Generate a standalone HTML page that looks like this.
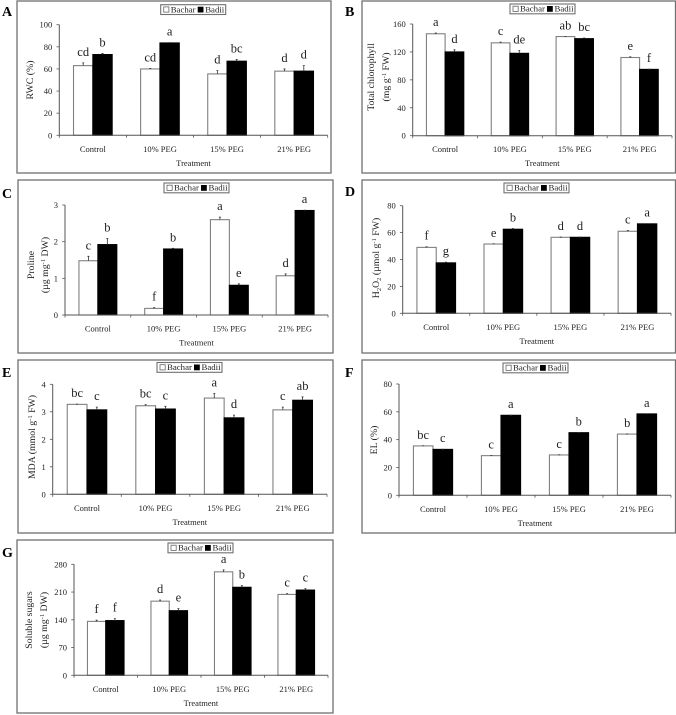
<!DOCTYPE html>
<html lang="en">
<head>
<meta charset="utf-8">
<title>Seven-panel bar charts: Bachar and Badii under PEG treatments</title>
<style>
  html, body { margin: 0; padding: 0; background: #fff; }
  svg { display: block; filter: blur(0.35px); }
  text { font-family: "Liberation Serif", serif; fill: #222; }
</style>
</head>
<body>
<svg id="figure" xmlns="http://www.w3.org/2000/svg" width="676" height="715" viewBox="0 0 676 715"></svg>
<script>
const categories = ['Control', '10% PEG', '15% PEG', '21% PEG'];
const seriesNames = ['Bachar', 'Badii'];
const xAxisTitle = 'Treatment';

const aBachar = [63, 60, 55.5, 58];
const aBadii = [73, 83.5, 67, 58];
const aBacharErr = [2.5, 0.5, 3, 2];
const aBadiiErr = [1, 0.3, 1.5, 5];
const aBacharSig = ['cd', 'cd', 'd', 'd'];
const aBadiiSig = ['b', 'a', 'bc', 'd'];
const aTicks = [0, 20, 40, 60, 80, 100];

const bBachar = [146, 133, 142, 112];
const bBadii = [120, 118, 139, 95];
const bBacharErr = [1, 1, 0.3, 1];
const bBadiiErr = [3, 4, 1, 0.3];
const bBacharSig = ['a', 'c', 'ab', 'e'];
const bBadiiSig = ['d', 'de', 'bc', 'f'];
const bTicks = [0, 40, 80, 120, 160];

const cBachar = [1.48, 0.18, 2.6, 1.07];
const cBadii = [1.92, 1.8, 0.81, 2.85];
const cBacharErr = [0.12, 0.02, 0.07, 0.05];
const cBadiiErr = [0.17, 0.02, 0.04, 0.01];
const cBacharSig = ['c', 'f', 'a', 'd'];
const cBadiiSig = ['b', 'b', 'e', 'a'];
const cTicks = [0, 1, 2, 3];

const dBachar = [49, 51.5, 56.5, 61];
const dBadii = [37.5, 62.5, 56.5, 66.5];
const dBacharErr = [0.5, 0.2, 0.2, 0.5];
const dBadiiErr = [0.5, 0.5, 0.2, 0.2];
const dBacharSig = ['f', 'e', 'd', 'c'];
const dBadiiSig = ['g', 'b', 'd', 'a'];
const dTicks = [0, 20, 40, 60, 80];

const eBachar = [3.27, 3.22, 3.5, 3.07];
const eBadii = [3.07, 3.1, 2.78, 3.42];
const eBacharErr = [0.01, 0.04, 0.17, 0.1];
const eBadiiErr = [0.1, 0.1, 0.1, 0.12];
const eBacharSig = ['bc', 'bc', 'a', 'c'];
const eBadiiSig = ['c', 'c', 'd', 'ab'];
const eTicks = [0, 1, 2, 3, 4];

const fBachar = [35.5, 28.5, 29, 44];
const fBadii = [33, 57.5, 45, 58.5];
const fBacharErr = [0.1, 0.1, 0.1, 0.1];
const fBadiiErr = [0.1, 0.1, 0.1, 0.1];
const fBacharSig = ['bc', 'c', 'c', 'b'];
const fBadiiSig = ['c', 'a', 'b', 'a'];
const fTicks = [0, 20, 40, 60, 80];

const gBachar = [136, 187, 261, 204];
const gBadii = [138, 163, 222, 215];
const gBacharErr = [3, 3, 5, 2];
const gBadiiErr = [5, 5, 4, 4];
const gBacharSig = ['f', 'd', 'a', 'c'];
const gBadiiSig = ['f', 'e', 'b', 'c'];
const gTicks = [0, 70, 140, 210, 280];

const panels = [
  { letter: 'A', bachar: aBachar, badii: aBadii, bacharErr: aBacharErr, badiiErr: aBadiiErr, bacharSig: aBacharSig, badiiSig: aBadiiSig, ticks: aTicks,
    title: [[['RWC (%)', '']]],
    frame: [17, 1, 314, 172], axis: [59.3, 327.7, 135.3, 24.7], legend: [160.7, 4.7], letterAt: [2, 16], titleX: [33], titleY: 80 },
  { letter: 'B', bachar: bBachar, badii: bBadii, bacharErr: bBacharErr, badiiErr: bBadiiErr, bacharSig: bBacharSig, badiiSig: bBadiiSig, ticks: bTicks,
    title: [[['Total chlorophyll', '']], [['(mg g', ''], ['-1', 'sup'], [' FW)', '']]],
    frame: [362, 1, 313.5, 172], axis: [412.7, 672, 135.7, 24], legend: [510, 4], letterAt: [345, 16], titleX: [374, 389], titleY: 77 },
  { letter: 'C', bachar: cBachar, badii: cBadii, bacharErr: cBacharErr, badiiErr: cBadiiErr, bacharSig: cBacharSig, badiiSig: cBadiiSig, ticks: cTicks,
    title: [[['Proline', '']], [['(µg mg', ''], ['-1', 'sup'], [' DW)', '']]],
    frame: [18, 180, 315, 173], axis: [65, 328, 315, 205], legend: [164, 183], letterAt: [2, 198], titleX: [34, 48], titleY: 265 },
  { letter: 'D', bachar: dBachar, badii: dBadii, bacharErr: dBacharErr, badiiErr: dBadiiErr, bacharSig: dBacharSig, badiiSig: dBadiiSig, ticks: dTicks,
    title: [[['H', ''], ['2', 'sub'], ['O', ''], ['2', 'sub'], [' (µmol g', ''], ['-1', 'sup'], [' FW)', '']]],
    frame: [362, 180, 313.5, 173], axis: [402.7, 671, 313.3, 205.7], legend: [504, 183], letterAt: [345, 196], titleX: [379], titleY: 258 },
  { letter: 'E', bachar: eBachar, badii: eBadii, bacharErr: eBacharErr, badiiErr: eBadiiErr, bacharSig: eBacharSig, badiiSig: eBadiiSig, ticks: eTicks,
    title: [[['MDA (mmol g', ''], ['-1', 'sup'], [' FW)', '']]],
    frame: [18, 360, 315, 173], axis: [52.7, 327, 494.3, 384.3], legend: [157, 362.5], letterAt: [2, 377], titleX: [35], titleY: 437 },
  { letter: 'F', bachar: fBachar, badii: fBadii, bacharErr: fBacharErr, badiiErr: fBadiiErr, bacharSig: fBacharSig, badiiSig: fBadiiSig, ticks: fTicks,
    title: [[['EL (%)', '']]],
    frame: [362, 360, 313.5, 173], axis: [399, 671, 495.3, 384], legend: [503, 363], letterAt: [345, 377], titleX: [377], titleY: 440 },
  { letter: 'G', bachar: gBachar, badii: gBadii, bacharErr: gBacharErr, badiiErr: gBadiiErr, bacharSig: gBacharSig, badiiSig: gBadiiSig, ticks: gTicks,
    title: [[['Soluble sugars', '']], [['(µg mg', ''], ['-1', 'sup'], [' DW)', '']]],
    frame: [17, 540, 316, 173], axis: [74, 328, 675.3, 564.3], legend: [168, 543], letterAt: [2, 557], titleX: [32, 47], titleY: 620 }
];

const NS = 'http://www.w3.org/2000/svg';
const figure = document.getElementById('figure');

function make(parent, tag, attrs, content) {
  const node = document.createElementNS(NS, tag);
  for (const key in attrs) node.setAttribute(key, attrs[key]);
  if (content !== undefined) node.textContent = content;
  parent.appendChild(node);
  return node;
}

function drawBar(parent, left, top, width, base, fill, stroke, name) {
  const el = make(parent, 'rect', { x: left, y: top, width: width, height: Math.max(base - top, 0), fill: fill, stroke: stroke, 'stroke-width': 1.1 });
  
  
}

function drawError(parent, cx, yFrom, yTo, name) {
  const el = make(parent, 'path', { d: 'M' + cx + ' ' + yFrom + 'V' + yTo + 'M' + (cx - 1) + ' ' + yTo + 'H' + (cx + 1), stroke: '#333', 'stroke-width': 0.8, fill: 'none' });
  
  
}

function drawSig(parent, cx, y, label, name) {
  const el = make(parent, 'text', { x: cx, y: y, 'text-anchor': 'middle', 'font-size': 12.5 }, label);
  
  
}

panels.forEach(function (p) {
  const key = p.letter.toLowerCase();
  const g = make(figure, 'g', {});
  
  

  const frame = make(g, 'rect', { x: p.frame[0], y: p.frame[1], width: p.frame[2], height: p.frame[3], fill: '#fff', stroke: '#707070', 'stroke-width': 1.3 });
  
  

  const panelLabel = make(g, 'text', { x: p.letterAt[0], y: p.letterAt[1], 'font-size': 14, 'font-weight': 'bold', style: 'fill:#000' }, p.letter);
  
  

  const x0 = p.axis[0], x1 = p.axis[1], y0 = p.axis[2], yTop = p.axis[3];
  const maxValue = p.ticks[p.ticks.length - 1];
  const yScale = function (v) { return y0 - (v / maxValue) * (y0 - yTop); };
  const groupWidth = (x1 - x0) / categories.length;
  const groupCenter = function (i) { return x0 + (i + 0.5) * groupWidth; };
  const barWidth = groupWidth * 0.288;

  categories.forEach(function (cat, i) {
    const cx = groupCenter(i);
    const topA = yScale(p.bachar[i]);
    const topB = yScale(p.badii[i]);
    const errA = yScale(p.bachar[i] + p.bacharErr[i]);
    const errB = yScale(p.badii[i] + p.badiiErr[i]);
    drawBar(g, cx - barWidth, topA, barWidth, y0, '#fff', '#808080', 'bar-bachar');
    drawBar(g, cx, topB, barWidth, y0, '#000', '#000', 'bar-badii');
    drawError(g, cx - barWidth / 2, topA, errA, 'error-bar-bachar');
    drawError(g, cx + barWidth / 2, topB, errB, 'error-bar-badii');
    drawSig(g, cx - barWidth / 2, errA - 7, p.bacharSig[i], 'significance-bachar');
    drawSig(g, cx + barWidth / 2, errB - 7, p.badiiSig[i], 'significance-badii');

    const catLabel = make(g, 'text', { x: cx, y: y0 + 16.5, 'text-anchor': 'middle', 'font-size': 8.5 }, cat);
    
    
  });

  const yAxis = make(g, 'line', { x1: x0, x2: x0, y1: yTop, y2: y0, stroke: '#555', 'stroke-width': 1 });
  
  

  const xAxis = make(g, 'line', { x1: x0, x2: x1, y1: y0, y2: y0, stroke: '#555', 'stroke-width': 1 });
  
  

  for (let i = 0; i <= categories.length; i++) {
    const tx = x0 + i * groupWidth;
    const xTick = make(g, 'line', { x1: tx, x2: tx, y1: y0, y2: y0 + 2.5, stroke: '#555', 'stroke-width': 0.8 });
    
    
  }

  p.ticks.forEach(function (t) {
    const ty = yScale(t);
    const yTick = make(g, 'line', { x1: x0 - 2.8, x2: x0, y1: ty, y2: ty, stroke: '#555', 'stroke-width': 0.8 });
    
    

    const yLabel = make(g, 'text', { x: x0 - 7, y: ty + 3, 'text-anchor': 'end', 'font-size': 8.5 }, String(t));
    
    
  });

  const xTitle = make(g, 'text', { x: (x0 + x1) / 2, y: y0 + 30.5, 'text-anchor': 'middle', 'font-size': 8.5 }, xAxisTitle);
  
  

  p.title.forEach(function (line, n) {
    const tx = p.titleX[n];
    const yTitle = make(g, 'text', { transform: 'translate(' + tx + ' ' + p.titleY + ') rotate(-90)', 'text-anchor': 'middle', 'font-size': 9.8 });
    
    
    let shift = 0;
    line.forEach(function (part) {
      const target = part[1] === 'sup' ? -3 : part[1] === 'sub' ? 2 : 0;
      const attrs = { dy: target - shift };
      if (part[1]) attrs['font-size'] = 6.5;
      make(yTitle, 'tspan', attrs, part[0]);
      shift = target;
    });
  });

  const lx = p.legend[0], ly = p.legend[1];
  const legend = make(g, 'g', {});
  
  

  const legendBox = make(legend, 'rect', { x: lx, y: ly, width: 65, height: 9.8, fill: '#fff', stroke: '#707070', 'stroke-width': 1.1 });
  
  

  const swatchA = make(legend, 'rect', { x: lx + 3, y: ly + 2.2, width: 5.2, height: 5.2, fill: '#fff', stroke: '#666', 'stroke-width': 0.8 });
  
  

  const labelA = make(legend, 'text', { x: lx + 10, y: ly + 7.6, 'font-size': 8.8 }, seriesNames[0]);
  
  

  const swatchB = make(legend, 'rect', { x: lx + 37, y: ly + 2, width: 5.8, height: 5.8, fill: '#000' });
  
  

  const labelB = make(legend, 'text', { x: lx + 44.5, y: ly + 7.6, 'font-size': 8.8 }, seriesNames[1]);
  
  
});
</script>
</body>
</html>
